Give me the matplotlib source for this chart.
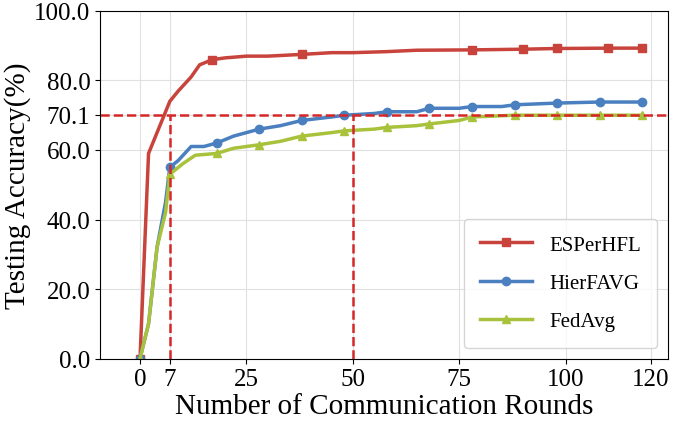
import matplotlib
matplotlib.use('Agg')
import matplotlib.pyplot as plt

plt.rcParams['font.family'] = 'Liberation Serif'

es_x = [0, 2, 5, 7, 9, 12, 14, 17, 20, 25, 30, 38, 45, 50, 58, 65, 78, 90, 98, 110, 118]
es_y = [0, 59, 68, 74, 77, 81, 84.5, 86, 86.5, 87, 87, 87.5, 88, 88, 88.3, 88.7, 88.8, 89, 89.2, 89.3, 89.3]
es_m = [0, 7, 11, 16, 17, 18, 19, 20]

hf_x = [0, 2, 4, 6, 7, 9, 12, 15, 18, 22, 28, 33, 38, 45, 48, 55, 58, 65, 68, 75, 78, 85, 88, 98, 108, 118]
hf_y = [0, 10, 32, 45, 55, 57, 61, 61, 62, 64, 66, 67, 68.5, 69.5, 70, 70.5, 71, 71, 72, 72, 72.5, 72.5, 73, 73.5, 73.8, 73.8]
hf_m = [0, 4, 8, 10, 12, 14, 16, 18, 20, 22, 23, 24, 25]

fa_x = [0, 2, 4, 6, 7, 10, 13, 18, 22, 28, 33, 38, 45, 48, 55, 58, 65, 68, 75, 78, 88, 98, 108, 118]
fa_y = [0, 10, 32, 42, 53, 56, 58.5, 59, 60.5, 61.5, 62.5, 64, 65, 65.5, 66, 66.5, 67, 67.5, 68.5, 69.5, 70, 70, 70, 70]
fa_m = [0, 4, 7, 9, 11, 13, 15, 17, 19, 20, 21, 22, 23]

fig, ax = plt.subplots(figsize=(6.85, 4.27), dpi=100)
ax.grid(True, color='#e0e0e0', linewidth=0.8)
ax.set_axisbelow(True)
ax.plot(es_x, es_y, color='#c8433c', lw=2.5, marker='s', ms=6, markevery=es_m, label='ESPerHFL')
ax.plot(hf_x, hf_y, color='#4a7fc0', lw=2.5, marker='o', ms=6, markevery=hf_m, label='HierFAVG')
ax.plot(fa_x, fa_y, color='#a8c23c', lw=2.5, marker='^', ms=6, markevery=fa_m, label='FedAvg')

ax.axhline(70.1, color='#d62728', ls='--', lw=1.8)
ax.plot([7, 7], [0, 70.1], color='#d62728', ls='--', lw=1.8)
ax.plot([50, 50], [0, 70.1], color='#d62728', ls='--', lw=1.8)

ax.set_xlim(-9.4, 124)
ax.set_ylim(0, 100)
ax.set_xticks([0, 7, 25, 50, 75, 100, 120])
ax.set_yticks([0, 20, 40, 60, 70.1, 80, 100])
ax.set_yticklabels(['0.0', '20.0', '40.0', '60.0', '70.1', '80.0', '100.0'])
ax.tick_params(labelsize=18)
ax.set_xlabel('Number of Communication Rounds', fontsize=21, labelpad=2)
ax.set_ylabel('Testing Accuracy(%)', fontsize=21, labelpad=2)
ax.legend(loc='lower right', fontsize=15, handlelength=2.5, borderpad=0.8, labelspacing=0.9)
fig.subplots_adjust(left=0.146, right=0.975, top=0.972, bottom=0.158)
fig.savefig('out.png')
